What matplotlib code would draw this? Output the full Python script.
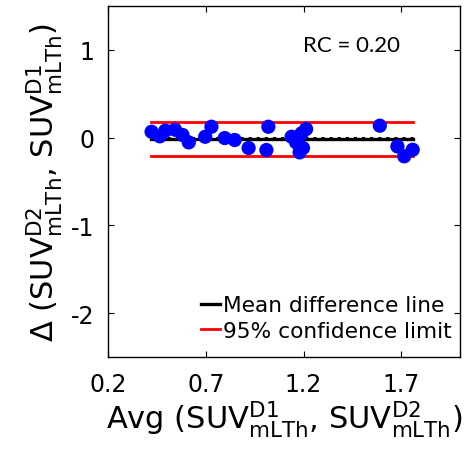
import matplotlib
matplotlib.use("Agg")
import matplotlib.pyplot as plt
import numpy as np

# Data
avg_vals = [0.423, 0.465, 0.493, 0.543, 0.581, 0.613, 0.697, 0.729, 0.797, 0.848,
            0.919, 1.010, 1.020, 1.139, 1.162, 1.180, 1.185, 1.197, 1.190, 1.213,
            1.590, 1.680, 1.715, 1.758]
diff_vals = [0.067, 0.015, 0.079, 0.090, 0.030, -0.054, 0.010, 0.124, -0.005, -0.027,
             -0.118, -0.141, 0.124, 0.010, -0.054, -0.168, -0.130, -0.118, 0.049, 0.098,
             0.136, -0.100, -0.213, -0.138]
line_x = [0.42, 1.76]
mean_diff = -0.016
upper_limit = 0.18
lower_limit = -0.215
rc_text = "RC = 0.20"
xticks = [0.2, 0.7, 1.2, 1.7]
yticks = [1, 0, -1, -2]

plt.rcParams['font.family'] = ['DejaVu Sans']
plt.rcParams['axes.unicode_minus'] = False
plt.rcParams['mathtext.fontset'] = 'dejavusans'

fig = plt.figure(figsize=(4.76, 4.64), dpi=100)
ax = fig.add_axes([108/476, (464-358)/464, (460-108)/476, (358-7)/464])

ax.plot(line_x, [0, 0], color='black', linestyle=':', linewidth=2.2, zorder=2)
ax.plot(line_x, [mean_diff, mean_diff], color='black', linewidth=2.4, zorder=2,
        label='Mean difference line')
ax.plot(line_x, [upper_limit, upper_limit], color='red', linewidth=2, zorder=2,
        label='95% confidence limit')
ax.plot(line_x, [lower_limit, lower_limit], color='red', linewidth=2, zorder=2)
ax.scatter(avg_vals, diff_vals, s=105, color='blue', edgecolors='none', zorder=3)

ax.set_xlim(0.2, 2.0)
ax.set_ylim(-2.5, 1.5)
ax.set_xticks(xticks)
ax.set_xticklabels([f"{t:.1f}" for t in xticks])
ax.set_yticks(yticks)
ax.set_yticklabels([str(t) for t in yticks])
ax.tick_params(direction='in', length=4, top=True, right=True, labelsize=17,
               width=0.8)
ax.tick_params(axis='x', pad=11)
ax.tick_params(axis='y', pad=10)
for s in ax.spines.values():
    s.set_linewidth(1.0)

ax.set_xlabel(r"Avg ($\mathrm{SUV}^{\mathrm{D1}}_{\mathrm{mLTh}}$, $\mathrm{SUV}^{\mathrm{D2}}_{\mathrm{mLTh}}$)",
              fontsize=22, labelpad=1)
ax.set_ylabel(r"$\Delta$ ($\mathrm{SUV}^{\mathrm{D2}}_{\mathrm{mLTh}}$, $\mathrm{SUV}^{\mathrm{D1}}_{\mathrm{mLTh}}$)",
              fontsize=22, labelpad=4)

ax.text(0.555, 0.89, rc_text, transform=ax.transAxes, fontsize=16,
        family=['Lato', 'DejaVu Sans'], ha='left', va='center')

leg = ax.legend(loc='lower right', frameon=False, fontsize=15.6, handlelength=0.9,
                handletextpad=0.1, borderpad=0.0, borderaxespad=0.0,
                labelspacing=0.25, bbox_to_anchor=(0.975, 0.046))

fig.savefig("out.png", dpi=100)
